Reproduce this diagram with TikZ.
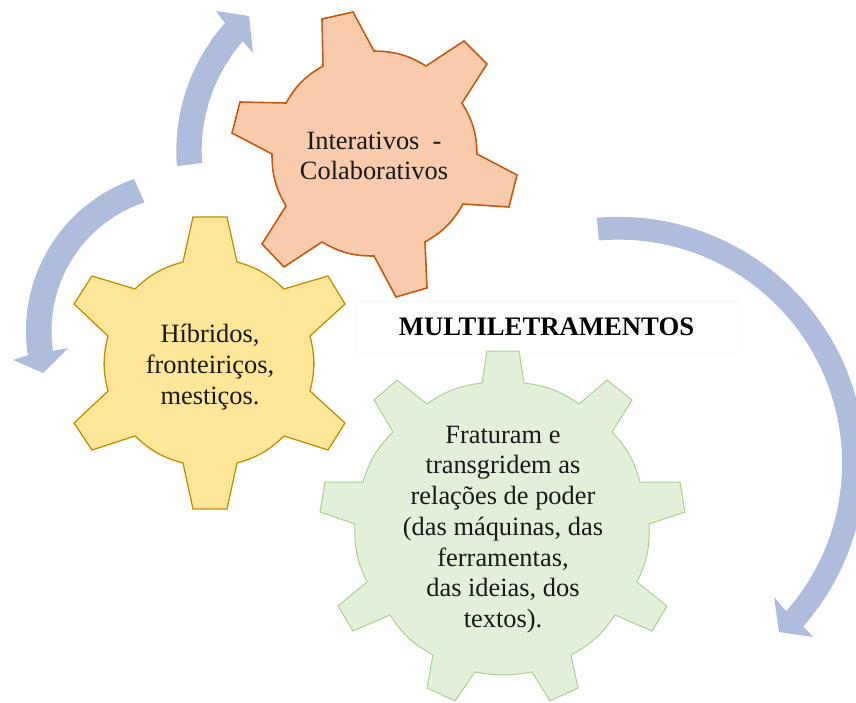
\documentclass[tikz,border=0pt]{standalone}
\usepackage{fontspec}
\setmainfont{Liberation Serif}
\definecolor{arrowblue}{HTML}{AEBCDE}
\definecolor{orangefill}{HTML}{F8CBAD}
\definecolor{orangeline}{HTML}{C55A11}
\definecolor{yellowfill}{HTML}{FFE699}
\definecolor{yellowline}{HTML}{BF9000}
\definecolor{greenfill}{HTML}{E2F0D9}
\definecolor{greenline}{HTML}{A9D18E}
\tikzset{
  gearorange/.style={fill=orangefill,draw=orangeline,line width=1.6pt,line join=miter},
  gearyellow/.style={fill=yellowfill,draw=yellowline,line width=1.3pt,line join=miter},
  geargreen/.style={fill=greenfill,draw=greenline,line width=1pt,line join=miter},
  gearlabel/.style={align=center,inner sep=0pt,text=black!90,font=\fontsize{26.4}{30.7}\selectfont},
  bigarrow/.style={fill=arrowblue,draw=none},
  rootarc/.style={bend left=#1},
}
\begin{document}
\begin{tikzpicture}[x=1pt,y=-1pt]
\useasboundingbox (0,0) rectangle (856,702);
\clip (0,0) rectangle (856,702);
% block arrows
\fill[bigarrow] plot[domain=-95:41.4,samples=70] ({618.4+246.5*cos(\x)},{463.3+246.5*sin(\x)})
  -- (813,637) -- (779,632) -- (774,597)
  -- plot[domain=41.4:-95,samples=70] ({618.4+223.7*cos(\x)},{463.3+223.7*sin(\x)}) -- cycle;
\fill[bigarrow] plot[domain=175.5:221.6,samples=30] ({369+192.7*cos(\x)},{151+192.7*sin(\x)})
  -- (216,11) -- (249,16) -- (253,53)
  -- plot[domain=221:175.9,samples=30] ({369+167.3*cos(\x)},{151+167.3*sin(\x)}) -- cycle;
\fill[bigarrow] plot[domain=250.8:171.4,samples=40] ({187+161*cos(\x)},{331+161*sin(\x)})
  -- (13,360) -- (43,373) -- (68,348)
  -- plot[domain=171.6:251.7,samples=40] ({187+135.5*cos(\x)},{331+135.5*sin(\x)}) -- cycle;
% title box
\node[fill=white,draw=black!3,line width=0.5pt,minimum width=383pt,minimum height=52pt,inner sep=0pt,font=\fontsize{26.7}{30}\selectfont\bfseries] (title) at (546.5,327) {MULTILETRAMENTOS};
% orange gear
\draw[gearorange] (323,66) -- (322,19) -- (353,12) -- (374,51)
  to[rootarc=15] (426,66) -- (464,41) -- (487,64) -- (462,103)
  to[rootarc=15] (477,154) -- (517,175) -- (509,207) -- (463,204)
  to[rootarc=15] (425,242) -- (427,288) -- (396,297) -- (374,256)
  to[rootarc=15] (322,242) -- (284,267) -- (262,244) -- (286,206)
  to[rootarc=15] (272,154) -- (232,133) -- (240,102) -- (286,103)
  to[rootarc=15] cycle;
% yellow gear
\draw[gearyellow] (183,262) -- (193,217) -- (227,217) -- (237,262)
  to[rootarc=14] (284,289) -- (328,276) -- (345,304) -- (310,336)
  to[rootarc=14] (310,391) -- (345,423) -- (328,450) -- (284,436)
  to[rootarc=14] (237,463) -- (227,509) -- (193,509) -- (183,463)
  to[rootarc=14] (135,436) -- (92,450) -- (74,423) -- (108,391)
  to[rootarc=14] (108,336) -- (74,304) -- (92,276) -- (135,289)
  to[rootarc=14] cycle;
% green gear
\draw[geargreen] (482,383) -- (487,351) -- (519,351) -- (524,383)
  to[rootarc=14] (579,404) -- (607,380) -- (632,400) -- (612,432)
  to[rootarc=14] (640,482) -- (680,482) -- (685,512) -- (649,524)
  to[rootarc=14] (637,582) -- (667,606) -- (652,631) -- (615,615)
  to[rootarc=14] (571,655) -- (578,688) -- (550,701) -- (532,672)
  to[rootarc=10] (475,672) -- (455,701) -- (427,688) -- (433,655)
  to[rootarc=14] (390,615) -- (353,631) -- (338,606) -- (367,582)
  to[rootarc=14] (355,524) -- (320,512) -- (325,482) -- (363,482)
  to[rootarc=14] (393,432) -- (374,400) -- (397,380) -- (427,404)
  to[rootarc=14] cycle;
% labels
\node[gearlabel] (inter) at (374,156) {Interativos\ \ -\\Colaborativos};
\node[gearlabel] (hib) at (210,367) {Híbridos,\\fronteiriços,\\mestiços.};
\node[gearlabel] (frat) at (503,529.5) {Fraturam e\\transgridem as\\relações de poder\\(das máquinas, das\\ferramentas,\\das ideias, dos\\textos).};
\end{tikzpicture}
\end{document}
